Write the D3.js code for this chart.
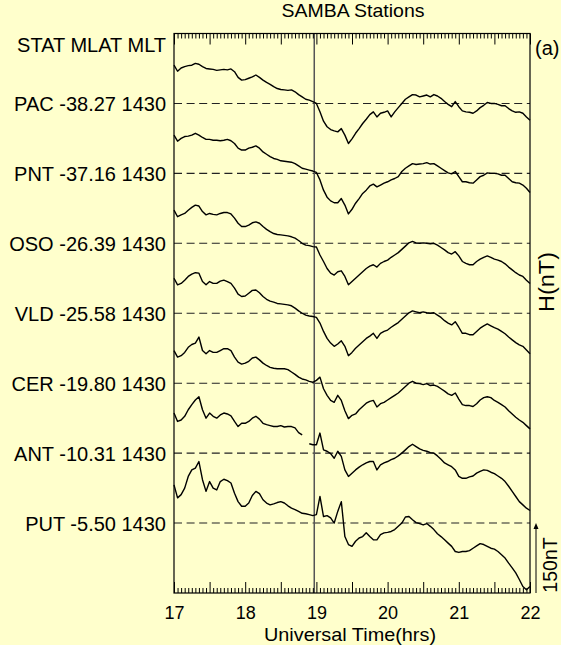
<!DOCTYPE html>
<html><head><meta charset="utf-8">
<script src="https://cdn.jsdelivr.net/npm/d3@7"></script>
<style>
html,body{margin:0;padding:0;background:#ffffcc;}
svg{display:block;}
text{font-family:"Liberation Sans",Arial,Helvetica,sans-serif;fill:#000;}
</style></head><body>
<svg id="chart" width="561" height="645"></svg>
<script>
// ---- data ----
const startHour = 17, stepHour = 0.05;          // sampling of the traces (UT hours)
const stations = ["PAC","PNT","OSO","VLD","CER","ANT","PUT"];
const mlat = ["-38.27","-37.16","-26.39","-25.58","-19.80","-10.31","-5.50"];
const mlt = ["1430","1430","1430","1430","1430","1430","1430"];
const hourTicks = [17,18,19,20,21,22];
const eventTime = 18.97;       // vertical marker
const stationSpacing = 150;    // nT between baselines
const scaleBarNT = 150;

// H component offsets (nT) from each station's baseline
const PAC = [82,69,76,79,81,82,86,84,79,75,
  74,73,71,72,73,72,74,68,56,50,
  51,54,57,61,56,50,45,41,36,32,
  30,29,28,29,25,19,14,9,7,4,
  0,-18,-38,-50,-56,-59,-61,-54,-68,-86,
  -76,-64,-54,-43,-34,-24,-18,-29,-21,-19,
  -16,-29,-18,-9,0,9,14,19,18,14,
  16,18,14,19,16,11,4,-2,-7,4,
  -7,-16,-18,-19,-21,-16,-9,-4,2,0,
  0,-2,-5,-5,-11,-16,-19,-18,-21,-29,
  -36];
const PNT = [82,69,75,79,80,82,86,82,77,73,
  73,71,71,70,71,73,70,64,54,50,
  50,54,56,59,54,46,41,36,32,30,
  27,26,25,24,21,16,11,9,7,5,
  2,-14,-36,-51,-59,-63,-63,-54,-68,-87,
  -77,-64,-54,-43,-36,-27,-23,-29,-25,-21,
  -18,-14,-11,-7,4,11,16,21,19,20,
  21,23,20,21,16,11,6,1,-1,4,
  -7,-18,-18,-20,-21,-14,-7,-4,1,0,
  0,-1,-4,-4,-11,-18,-20,-21,-25,-32,
  -41];
const OSO = [71,57,61,64,71,77,82,80,68,61,
  64,62,61,64,66,66,63,54,43,36,
  36,39,44,46,43,36,30,25,21,19,
  18,17,16,14,11,6,0,-4,-5,-7,
  -8,-25,-39,-54,-64,-68,-61,-59,-71,-89,
  -82,-75,-68,-61,-54,-49,-46,-51,-43,-39,
  -36,-30,-25,-20,-13,-6,1,4,1,0,
  1,0,-1,0,-4,-9,-14,-20,-23,-18,
  -27,-39,-43,-46,-46,-39,-34,-30,-27,-30,
  -34,-36,-39,-44,-51,-57,-63,-68,-71,-79,
  -86];
const VLD = [75,61,64,71,79,84,87,86,68,61,
  68,64,64,69,71,68,64,54,41,36,
  37,43,49,50,44,36,30,26,24,21,
  20,19,18,16,11,5,0,-4,-6,-7,
  -9,-21,-39,-54,-64,-71,-66,-59,-71,-91,
  -84,-75,-68,-61,-54,-49,-43,-54,-43,-39,
  -36,-30,-25,-20,-13,-6,1,5,3,1,
  3,1,0,1,-4,-9,-16,-21,-25,-18,
  -30,-43,-43,-46,-46,-39,-32,-27,-23,-27,
  -31,-34,-39,-44,-51,-57,-63,-68,-71,-79,
  -87];
const CER = [70,56,59,66,77,83,86,99,70,63,
  70,66,66,70,74,74,70,56,45,41,
  43,47,54,56,50,43,38,34,32,31,
  31,31,29,24,19,13,9,7,4,2,
  6,13,-12,-26,-37,-41,-26,-37,-59,-76,
  -69,-66,-57,-50,-43,-39,-37,-51,-44,-41,
  -36,-31,-26,-21,-14,-7,0,4,0,-1,
  -3,-1,-5,-4,-7,-12,-17,-23,-26,-21,
  -34,-46,-48,-48,-50,-44,-36,-31,-29,-31,
  -37,-41,-46,-51,-59,-66,-73,-79,-84,-91,
  -98];
const ANT = [86,68,71,79,93,104,114,121,93,75,
  86,79,75,82,86,84,80,68,57,64,
  64,68,75,79,73,64,61,59,57,57,
  59,56,57,57,54,44,39,null,20,18,
  18,43,7,4,-1,-11,4,-7,-36,-50,
  -43,-36,-30,-25,-21,-18,-18,-36,-25,-21,
  -18,-14,-11,-6,0,7,14,19,14,9,
  6,4,1,0,-6,-13,-21,-25,-29,-36,
  -50,-54,-54,-51,-49,-43,-39,-36,-37,-41,
  -44,-49,-54,-61,-71,-82,-93,-104,-111,-118,
  -123];
const PUT = [82,54,61,75,100,114,118,132,93,68,
  89,75,71,89,94,91,86,64,46,36,
  36,43,59,68,63,50,43,39,41,44,
  46,43,37,32,29,25,21,20,18,16,
  18,57,14,16,11,0,25,46,-29,-46,
  -50,-39,-32,-29,-21,-29,-36,-36,-25,-21,
  -20,-18,-14,-7,0,13,14,7,1,-1,
  -4,-1,-7,-14,-23,-29,-36,-43,-50,-61,
  -63,-61,-61,-59,-54,-49,-44,-46,-50,-54,
  -56,-61,-68,-75,-86,-96,-107,-121,-136,-143,
  -136];
const series = [PAC,PNT,OSO,VLD,CER,ANT,PUT];

// ---- layout ----
const svg = d3.select("#chart");
const L = 174, R = 530, T = 33.5, B = 593;
const x = d3.scaleLinear().domain([17,22]).range([L,R]);
const y = d3.scaleLinear().domain([scaleBarNT, -stationSpacing*stations.length]).range([T,B]);
const font = '"Liberation Sans",Arial,Helvetica,sans-serif';

// baselines
stations.forEach((s,i)=>{
  const yb = y(-stationSpacing*i);
  svg.append("line").attr("x1",L).attr("x2",R).attr("y1",yb).attr("y2",yb)
    .attr("stroke","#222").attr("stroke-width",1.1).attr("stroke-dasharray","8,4.6");
});

// event line
svg.append("line").attr("x1",x(eventTime)).attr("x2",x(eventTime)).attr("y1",T).attr("y2",B)
  .attr("stroke","#555").attr("stroke-width",1.5);

// traces
const line = d3.line().defined(d=>d.v!==null).x(d=>x(d.t)).y(d=>y(d.v));
series.forEach((vals,i)=>{
  const pts = vals.map((v,k)=>({t:startHour+k*stepHour, v: v===null?null: v - stationSpacing*i}));
  svg.append("path").datum(pts).attr("d",line).attr("fill","none")
    .attr("stroke","#000").attr("stroke-width",1.4).attr("stroke-linejoin","round");
});

// box
svg.append("rect").attr("x",L).attr("y",T).attr("width",R-L).attr("height",B-T)
  .attr("fill","none").attr("stroke","#000").attr("stroke-width",1.2);

// ticks
const majors = d3.range(17,22.0001,0.5);
const minors = d3.range(17,22.0001,0.05).filter(v=>Math.abs(v*2-Math.round(v*2))>1e-6);
function ticks(axisFn, translateY, vals, size){
  const g = svg.append("g").attr("transform",`translate(0,${translateY})`)
    .call(axisFn(x).tickValues(vals).tickSize(size).tickFormat(""));
  g.select(".domain").remove();
  g.selectAll("line").attr("stroke","#000").attr("stroke-width",1);
}
ticks(d3.axisBottom, B, majors, -11);
ticks(d3.axisBottom, B, minors, -5);
ticks(d3.axisTop, T, majors, -11);
ticks(d3.axisTop, T, minors, -5);

// tick labels
const lab = svg.append("g").attr("transform",`translate(0,${B})`)
  .call(d3.axisBottom(x).tickValues(hourTicks).tickSize(0).tickFormat(d3.format("d")));
lab.select(".domain").remove();
lab.selectAll("text").attr("font-family",font).attr("font-size",18).attr("fill","#000")
  .attr("dy",null).attr("y",25.5);

// texts
svg.append("text").attr("x",353).attr("y",16.5).attr("text-anchor","middle")
  .attr("font-size",18.5).attr("textLength",143).attr("lengthAdjust","spacingAndGlyphs").text("SAMBA Stations");
svg.append("text").attr("x",535).attr("y",55).attr("font-size",20).text("(a)");
svg.append("text").attr("x",166).attr("y",52).attr("text-anchor","end")
  .attr("font-size",20).text("STAT MLAT MLT");
stations.forEach((s,i)=>{
  svg.append("text").attr("x",166).attr("y",y(-stationSpacing*i)+7.5).attr("text-anchor","end")
    .attr("font-size",20).text(`${s} ${mlat[i]} ${mlt[i]}`);
});
svg.append("text").attr("x",350).attr("y",640.5).attr("text-anchor","middle")
  .attr("font-size",18.5).attr("textLength",172).attr("lengthAdjust","spacingAndGlyphs").text("Universal Time(hrs)");
svg.append("text").attr("transform","translate(554,282) rotate(-90)").attr("text-anchor","middle")
  .attr("font-size",22).attr("textLength",60).attr("lengthAdjust","spacingAndGlyphs").text("H(nT)");

// scale bar
const sx = R + 6;
svg.append("line").attr("x1",sx).attr("x2",sx).attr("y1",y(-stationSpacing*(stations.length-1))+4)
  .attr("y2",y(-stationSpacing*(stations.length-1)-scaleBarNT)).attr("stroke","#000").attr("stroke-width",1);
const ty = y(-stationSpacing*(stations.length-1));
svg.append("path").attr("d",`M${sx},${ty} L${sx-2.5},${ty+6} L${sx+2.5},${ty+6} Z`).attr("fill","#000");
svg.append("text").attr("transform","translate(556.5,565) rotate(-90)").attr("text-anchor","middle")
  .attr("font-size",19.5).text("150nT");
</script>
</body></html>
